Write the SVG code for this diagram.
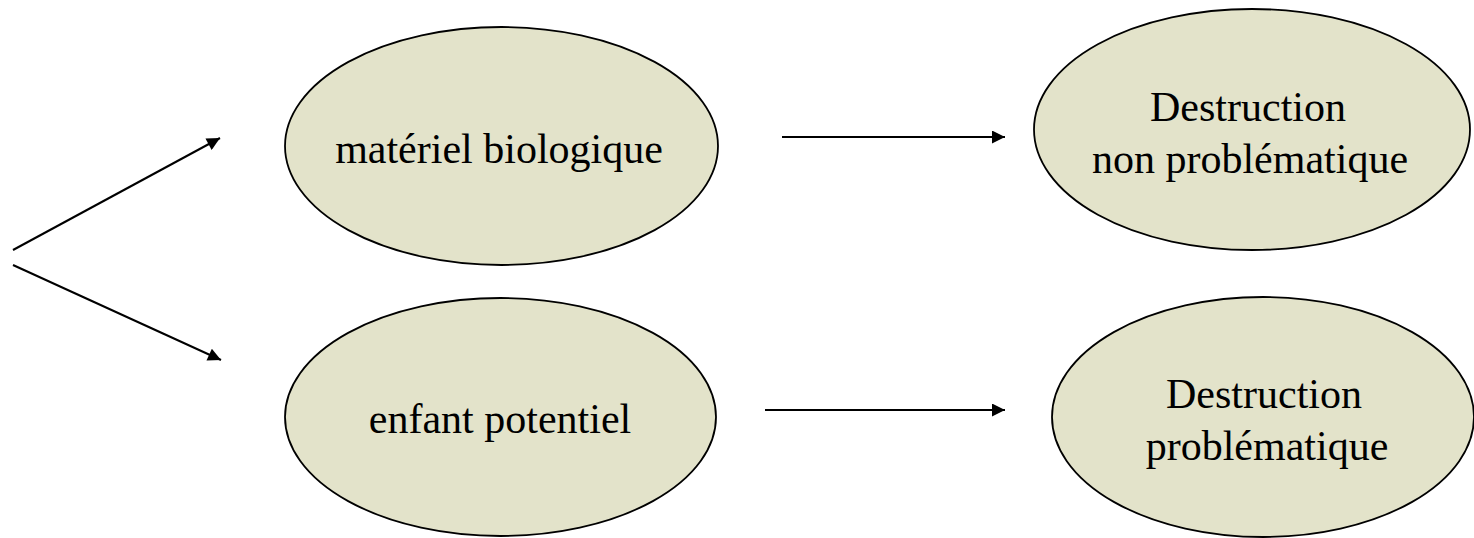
<svg xmlns="http://www.w3.org/2000/svg" width="1474" height="538" viewBox="0 0 1474 538">
<style>
.node ellipse{fill:#e3e3ca;stroke:#000;stroke-width:1.8}
.node text{font-family:"Liberation Serif","Times New Roman",serif;font-size:42px;fill:#000;text-anchor:middle}
.conn line{stroke:#000;stroke-width:2;fill:none}
</style>
<defs>
<marker id="ah" viewBox="0 0 10 10" refX="10" refY="5" markerWidth="16" markerHeight="13" markerUnits="userSpaceOnUse" orient="auto">
<path d="M0,0 L10,5 L0,10 Z" fill="#000"/>
</marker>
</defs>
<rect width="1474" height="538" fill="#fff"/>
<g id="n1" class="node">
<ellipse cx="501.5" cy="146" rx="216.5" ry="119"/>
<text x="499" y="163">matériel biologique</text>
</g>
<g id="n2" class="node">
<ellipse cx="500.5" cy="417" rx="215.5" ry="119"/>
<text x="500" y="433">enfant potentiel</text>
</g>
<g id="n3" class="node">
<ellipse cx="1252" cy="129.5" rx="218" ry="120.5"/>
<text x="1248" y="121">Destruction</text>
<text x="1250" y="173">non problématique</text>
</g>
<g id="n4" class="node">
<ellipse cx="1263" cy="417" rx="211" ry="120"/>
<text x="1264" y="408">Destruction</text>
<text x="1267" y="460">problématique</text>
</g>
<g id="connectors" class="conn">
<line x1="13" y1="250" x2="220" y2="138" marker-end="url(#ah)"/>
<line x1="13" y1="265" x2="221" y2="360" marker-end="url(#ah)"/>
<line x1="782" y1="137" x2="1005" y2="137" marker-end="url(#ah)"/>
<line x1="765" y1="410" x2="1005" y2="410" marker-end="url(#ah)"/>
</g>
</svg>
